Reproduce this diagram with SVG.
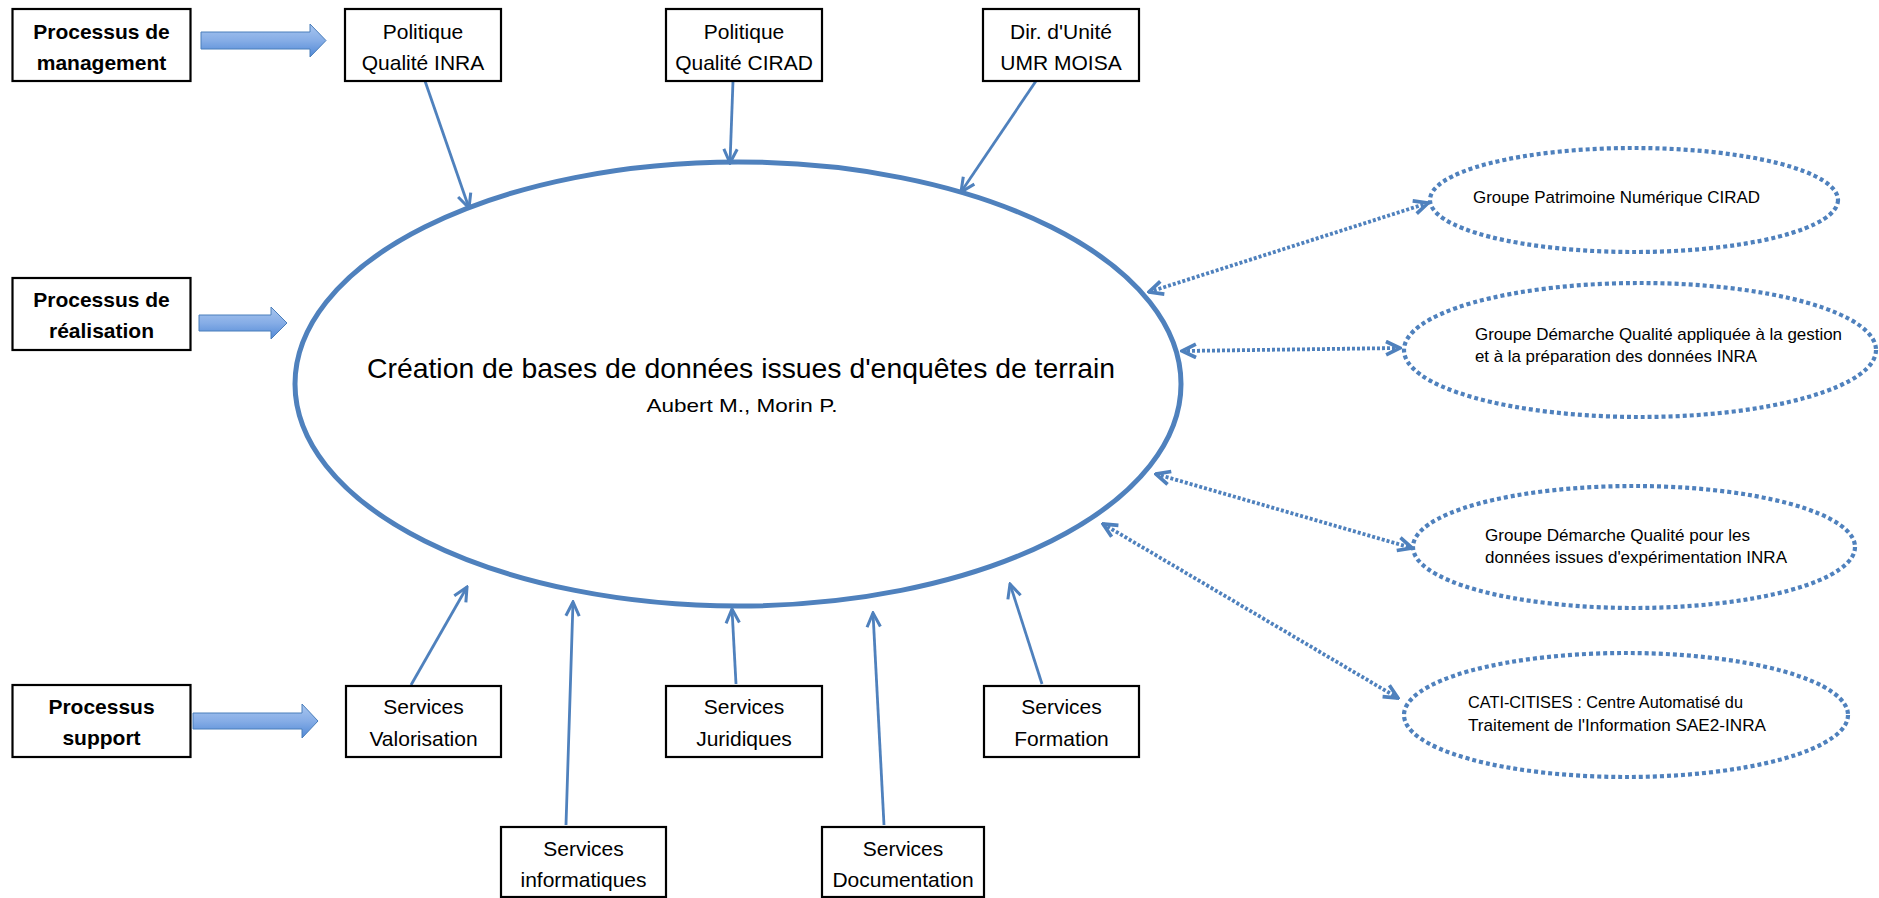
<svg xmlns="http://www.w3.org/2000/svg" width="1879" height="898" viewBox="0 0 1879 898">
<style>
.box{fill:#fff;stroke:#000;stroke-width:2.2}
.t{font-family:"Liberation Sans",Arial,sans-serif;font-size:21px;text-anchor:middle;fill:#000}
.tb{font-family:"Liberation Sans",Arial,sans-serif;font-size:21px;font-weight:bold;text-anchor:middle;fill:#000}
.st{font-family:"Liberation Sans",Arial,sans-serif;font-size:17px;fill:#000}
.blk{fill:url(#g);stroke:#4a7ebb;stroke-width:1}
.conn{stroke:#4f81bd;stroke-width:2.8;fill:none;marker-end:url(#ah)}
.dot{stroke:#4f81bd;stroke-width:3.8;fill:none;stroke-dasharray:3 2;marker-end:url(#dh);marker-start:url(#dh)}
.del{fill:#fff;stroke:#4f81bd;stroke-width:4.2;stroke-dasharray:4 3}
</style>
<defs>
<linearGradient id="g" x1="0" y1="0" x2="0" y2="1">
<stop offset="0" stop-color="#a9c6ef"/>
<stop offset="0.5" stop-color="#86ade6"/>
<stop offset="1" stop-color="#5088d6"/>
</linearGradient>
<marker id="ah" viewBox="0 0 14 14" refX="12.5" refY="7" markerWidth="17" markerHeight="17" markerUnits="userSpaceOnUse" orient="auto">
<path d="M1,1.5 L12.5,7 L1,12.5" fill="none" stroke="#4f81bd" stroke-width="2.5"/>
</marker>
<marker id="dh" viewBox="0 0 14 14" refX="12.5" refY="7" markerWidth="17" markerHeight="17" markerUnits="userSpaceOnUse" orient="auto-start-reverse">
<path d="M1,1.5 L12.5,7 L1,12.5" fill="none" stroke="#4f81bd" stroke-width="3"/>
</marker>
</defs>
<rect width="1879" height="898" fill="#fff"/>

<g id="main">
<ellipse cx="738" cy="384" rx="443" ry="222" fill="#fff" stroke="#4f81bd" stroke-width="5"/>
<text class="t" x="741" y="378" style="font-size:28px" textLength="748" lengthAdjust="spacingAndGlyphs">Création de bases de données issues d'enquêtes de terrain</text>
<text class="t" x="742" y="412" style="font-size:19px" textLength="191" lengthAdjust="spacingAndGlyphs">Aubert M., Morin P.</text>
</g>

<g id="connectors">
<polygon class="blk" points="201,32 310,32 310,24 326,40.5 310,57 310,49 201,49"/>
<polygon class="blk" points="199,315 271,315 271,307 287,323 271,339 271,331 199,331"/>
<polygon class="blk" points="193,713 302,713 302,704 318,721 302,738 302,729 193,729"/>
<line class="conn" x1="425" y1="81" x2="469" y2="208"/>
<line class="conn" x1="733" y1="81" x2="730" y2="163"/>
<line class="conn" x1="1036" y1="81" x2="961" y2="192"/>
<line class="conn" x1="411" y1="685" x2="467" y2="587"/>
<line class="conn" x1="566" y1="825" x2="573" y2="602"/>
<line class="conn" x1="736" y1="684" x2="732" y2="609"/>
<line class="conn" x1="884" y1="825" x2="873" y2="613"/>
<line class="conn" x1="1042" y1="684" x2="1010" y2="584"/>
<line class="dot" x1="1149" y1="292" x2="1428" y2="203"/>
<line class="dot" x1="1182" y1="351" x2="1400" y2="348"/>
<line class="dot" x1="1156" y1="474" x2="1412" y2="548"/>
<line class="dot" x1="1103" y1="524" x2="1398" y2="698"/>
</g>

<g id="n-mgmt"><rect class="box" x="12.5" y="9" width="178" height="72"/>
<text class="tb" x="101.5" y="39">Processus de</text><text class="tb" x="101.5" y="70">management</text></g>
<g id="n-real"><rect class="box" x="12.5" y="278" width="178" height="72"/>
<text class="tb" x="101.5" y="307">Processus de</text><text class="tb" x="101.5" y="338">réalisation</text></g>
<g id="n-supp"><rect class="box" x="12.5" y="685" width="178" height="72"/>
<text class="tb" x="101.5" y="714">Processus</text><text class="tb" x="101.5" y="745">support</text></g>

<g id="n-inra"><rect class="box" x="345" y="9" width="156" height="72"/>
<text class="t" x="423" y="39">Politique</text><text class="t" x="423" y="70">Qualité INRA</text></g>
<g id="n-cirad"><rect class="box" x="666" y="9" width="156" height="72"/>
<text class="t" x="744" y="39">Politique</text><text class="t" x="744" y="70">Qualité CIRAD</text></g>
<g id="n-dir"><rect class="box" x="983" y="9" width="156" height="72"/>
<text class="t" x="1061" y="39">Dir. d'Unité</text><text class="t" x="1061" y="70">UMR MOISA</text></g>

<g id="n-valo"><rect class="box" x="346" y="686" width="155" height="71"/>
<text class="t" x="423.5" y="714">Services</text><text class="t" x="423.5" y="746">Valorisation</text></g>
<g id="n-info"><rect class="box" x="501" y="827" width="165" height="70"/>
<text class="t" x="583.5" y="856">Services</text><text class="t" x="583.5" y="887">informatiques</text></g>
<g id="n-jur"><rect class="box" x="666" y="686" width="156" height="71"/>
<text class="t" x="744" y="714">Services</text><text class="t" x="744" y="746">Juridiques</text></g>
<g id="n-doc"><rect class="box" x="822" y="827" width="162" height="70"/>
<text class="t" x="903" y="856">Services</text><text class="t" x="903" y="887">Documentation</text></g>
<g id="n-form"><rect class="box" x="984" y="686" width="155" height="71"/>
<text class="t" x="1061.5" y="714">Services</text><text class="t" x="1061.5" y="746">Formation</text></g>

<g id="e1"><ellipse class="del" cx="1634" cy="200" rx="204" ry="52"/>
<text class="st" x="1473" y="203" textLength="287" lengthAdjust="spacingAndGlyphs">Groupe Patrimoine Numérique CIRAD</text></g>
<g id="e2"><ellipse class="del" cx="1640" cy="350" rx="236" ry="67"/>
<text class="st" x="1475" y="340" textLength="367" lengthAdjust="spacingAndGlyphs">Groupe Démarche Qualité appliquée à la gestion</text>
<text class="st" x="1475" y="362" textLength="282" lengthAdjust="spacingAndGlyphs">et à la préparation des données INRA</text></g>
<g id="e3"><ellipse class="del" cx="1634" cy="547" rx="221" ry="61"/>
<text class="st" x="1485" y="541" textLength="265" lengthAdjust="spacingAndGlyphs">Groupe Démarche Qualité pour les</text>
<text class="st" x="1485" y="563" textLength="302" lengthAdjust="spacingAndGlyphs">données issues d'expérimentation INRA</text></g>
<g id="e4"><ellipse class="del" cx="1626" cy="715" rx="222" ry="62"/>
<text class="st" x="1468" y="708" textLength="275" lengthAdjust="spacingAndGlyphs">CATI-CITISES : Centre Automatisé du</text>
<text class="st" x="1468" y="731" textLength="298" lengthAdjust="spacingAndGlyphs">Traitement de l'Information SAE2-INRA</text></g>
</svg>
